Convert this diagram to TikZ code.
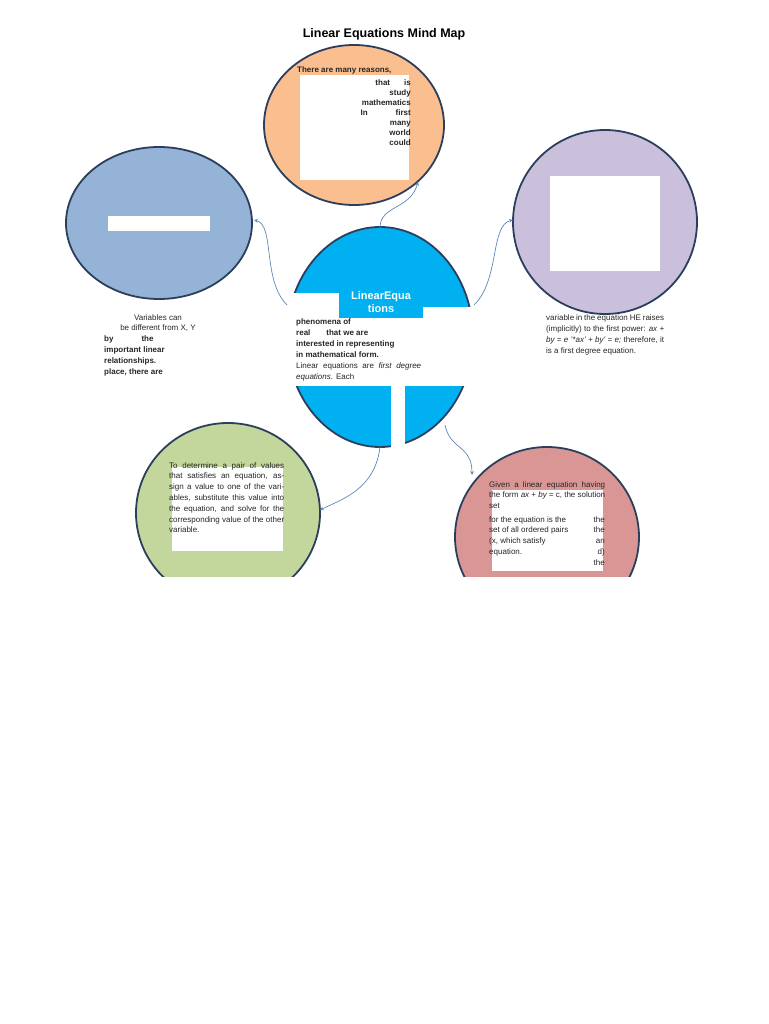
\documentclass[tikz,border=0pt]{standalone}
\usepackage{fontspec}
\setmainfont{Liberation Sans}
\begin{document}
\begin{tikzpicture}[x=1pt,y=-1pt,
  bub/.style={draw=bordc,line width=1.8pt},
  wbox/.style={fill=white,draw=none},
  conn/.style={draw=linec,line width=0.7pt,->,>=stealth},
  txt/.style={font=\fontsize{8}{10}\selectfont,text=black!85,inner sep=0pt,align=left}]
\definecolor{bordc}{HTML}{2B3F5C}
\definecolor{linec}{HTML}{5F86B5}
\definecolor{corange}{HTML}{FBBF8F}
\definecolor{cpurple}{HTML}{CBC0DB}
\definecolor{cblue}{HTML}{95B3D7}
\definecolor{ccyan}{HTML}{00B0F0}
\definecolor{cgreen}{HTML}{C3D69B}
\definecolor{cred}{HTML}{D99694}
\useasboundingbox (0,0) rectangle (768,1024);
\node[font=\bfseries\fontsize{12.5}{14}\selectfont] (title) at (384,34) {Linear Equations Mind Map};
\begin{scope}
\clip (0,0) rectangle (768,576);
\draw[bub,fill=corange] (354,125) ellipse [x radius=90,y radius=80];
\draw[bub,fill=cpurple] (605,222) ellipse [x radius=92,y radius=92];
\draw[bub,fill=cblue] (159,223) ellipse [x radius=93,y radius=76];
\draw[bub,fill=ccyan] (380,337) ellipse [x radius=93,y radius=110];
\draw[bub,fill=cgreen] (228,513) ellipse [x radius=92,y radius=90];
\draw[bub,fill=cred] (547,537) ellipse [x radius=92,y radius=90];
\end{scope}
% overlays on center
\fill[white] (286,307) rectangle (475,386);
\fill[white] (286,293) rectangle (339,307);
\fill[white] (391,386) rectangle (405,448);
\fill[ccyan] (339,285) rectangle (423,318);
\node[font=\bfseries\fontsize{11}{13}\selectfont,text=white,align=center] (ctitle) at (381,302) {LinearEqua\\tions};
% white boxes
\fill[wbox] (300,75) rectangle (409,180);
\fill[wbox] (550,176) rectangle (660,271);
\fill[wbox] (108,216) rectangle (210,231);
\fill[wbox] (172,467) rectangle (283,551);
\fill[wbox] (492,490) rectangle (603,571);
% top text
\node[txt,font=\bfseries\fontsize{8}{10}\selectfont,anchor=north west] (t1) at (297,67) {There are many reasons,};
\node[txt,font=\bfseries\fontsize{8}{10}\selectfont,anchor=north east,align=right] (t2) at (411,80) {that\hspace{14pt}is\\study\\mathematics\\In\hspace{28pt}first\\many\\world\\could};
% center text
\node[txt,font=\bfseries\fontsize{8}{10.8}\selectfont,anchor=north west] (c1) at (296,319) {phenomena of\\real\hspace{16pt}that we are\\interested in representing\\in mathematical form.};
\node[txt,anchor=north west,text width=125pt,align=justify,font=\fontsize{8}{10.8}\selectfont] (c2) at (296,363) {Linear equations are \textit{first degree equations}. Each};
% left text
\node[txt,anchor=north,align=center] (l1) at (158,315) {Variables can\\be different from X, Y};
\node[txt,font=\bfseries\fontsize{8}{10.8}\selectfont,anchor=north west] (l2) at (104,336) {by\hspace{28pt}the\\important linear\\relationships.\\place, there are};
% right text
\node[txt,anchor=north west,text width=118pt,align=justify,font=\fontsize{8}{10.8}\selectfont] (r1) at (546,315) {variable in the equation \hfill HE raises (implicitly) to the first power: \textit{ax + by = e '*ax' + by' = e;} therefore, it is a first degree equation.};
% green text
\node[txt,anchor=north west,text width=115pt,align=justify,font=\fontsize{8}{10.8}\selectfont] (g1) at (169,462) {To determine a pair of values that satisfies an equation, assign a value to one of the variables, substitute this value into the equation, and solve for the corresponding value of the other variable.};
% red text
\node[txt,anchor=north west,text width=116pt,align=justify,font=\fontsize{8}{10.8}\selectfont] (rd1) at (489,481) {Given a linear equation having the form \textit{ax + by =} c, the solution set};
\node[txt,anchor=north west,font=\fontsize{8}{10.8}\selectfont] (rd2) at (489,516) {for the equation is the\\set of all ordered pairs\\(x, which satisfy\\equation.};
\node[txt,anchor=north east,align=right,font=\fontsize{8}{10.8}\selectfont] (rd3) at (605,516) {the\\the\\an\\d)\\the};
% connectors
\coordinate (a0) at (380,228); \coordinate (a1) at (418,182);
\draw[conn] (a0) .. controls (380,205) and (410,210) .. (a1);
\coordinate (b0) at (287,305); \coordinate (b1) at (254,220);
\draw[conn] (b0) .. controls (262,280) and (275,225) .. (b1);
\coordinate (c0) at (474,305); \coordinate (c1p) at (513,220);
\draw[conn] (c0) .. controls (500,280) and (490,225) .. (c1p);
\coordinate (d0) at (380,447); \coordinate (d1) at (320,510);
\draw[conn] (d0) .. controls (375,490) and (340,500) .. (d1);
\coordinate (e0) at (445,425); \coordinate (e1) at (472,475);
\draw[conn] (e0) .. controls (450,450) and (472,445) .. (e1);
\end{tikzpicture}
\end{document}
